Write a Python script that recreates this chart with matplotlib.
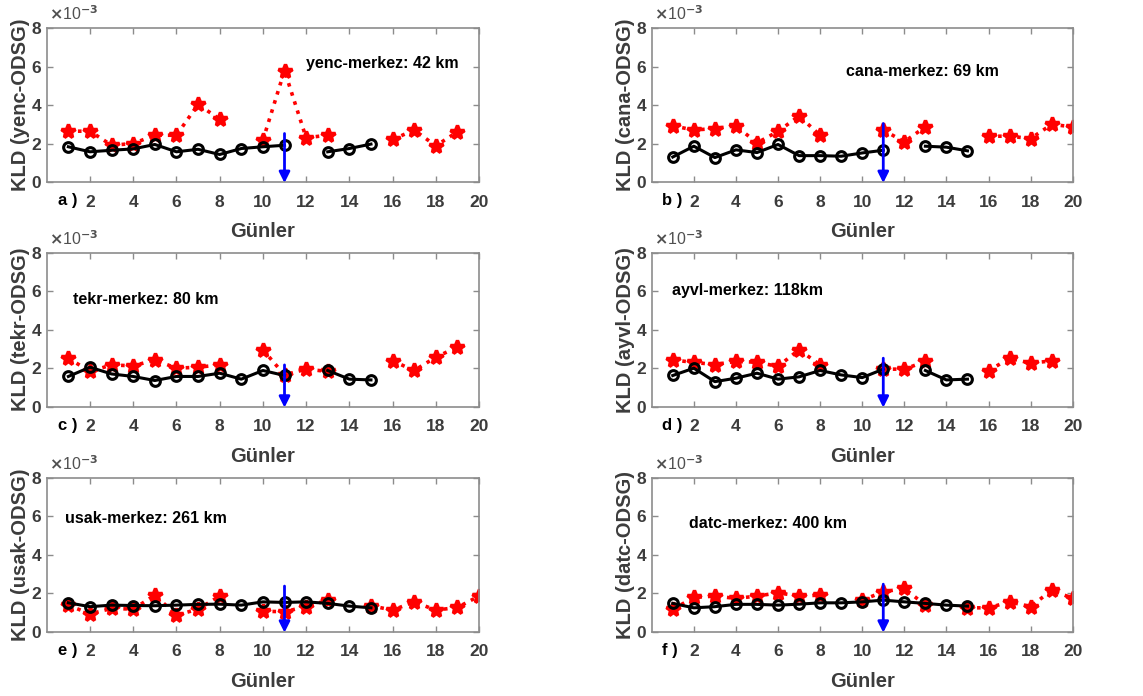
import numpy as np
import matplotlib
matplotlib.use("Agg")
import matplotlib.pyplot as plt

plt.rcParams['font.family'] = ['Liberation Sans Narrow', 'Liberation Sans', 'DejaVu Sans']
plt.rcParams['font.weight'] = 'bold'

nan = np.nan
days = np.arange(1, 21)

# KLD values (x10^-3), black = solid circles, red = dotted stars
yenc_black = [1.83, 1.57, 1.65, 1.72, 1.95, 1.57, 1.70, 1.43, 1.74, 1.83, 1.91, nan, 1.57, 1.74, 1.97, nan, nan, nan, nan, nan]
yenc_red = [2.64, 2.64, 1.91, 2.00, 2.43, 2.43, 4.03, 3.27, nan, 2.17, 5.79, 2.30, 2.43, nan, nan, 2.21, 2.70, 1.88, 2.61, nan]

cana_black = [1.30, 1.86, 1.27, 1.67, 1.53, 1.95, 1.37, 1.37, 1.34, 1.51, 1.65, nan, 1.86, 1.81, 1.62, nan, nan, nan, nan, nan]
cana_red = [2.92, 2.70, 2.78, 2.92, 2.03, 2.63, 3.43, 2.43, nan, nan, 2.70, 2.09, 2.87, nan, nan, 2.38, 2.38, 2.26, 2.99, 2.87]

tekr_black = [1.57, 2.05, 1.70, 1.57, 1.36, 1.57, 1.57, 1.74, 1.43, 1.88, 1.62, nan, 1.88, 1.43, 1.39, nan, nan, nan, nan, nan]
tekr_red = [2.52, 1.83, 2.17, 2.12, 2.43, 2.00, 2.05, 2.17, nan, 2.96, 1.65, 1.95, 1.83, nan, nan, 2.38, 1.88, 2.57, 3.10, nan]

ayvl_black = [1.62, 2.00, 1.30, 1.48, 1.74, 1.43, 1.55, 1.88, 1.65, 1.51, 1.95, nan, 1.88, 1.39, 1.43, nan, nan, nan, nan, nan]
ayvl_red = [2.43, 2.30, 2.19, 2.35, 2.31, 2.09, 2.96, 2.17, nan, nan, 1.95, 1.95, 2.35, nan, nan, 1.86, 2.52, 2.26, 2.38, nan]

usak_black = [1.50, 1.30, 1.38, 1.36, 1.35, 1.38, 1.42, 1.43, 1.38, 1.55, 1.52, 1.55, 1.47, 1.33, 1.24, nan, nan, nan, nan, nan]
usak_red = [1.38, 0.92, 1.21, 1.17, 1.90, 0.86, 1.17, 1.85, nan, 1.06, 1.04, 1.30, 1.64, nan, 1.35, 1.12, 1.55, 1.12, 1.26, 1.85]

datc_black = [1.47, 1.24, 1.30, 1.42, 1.42, 1.38, 1.43, 1.50, 1.50, 1.55, 1.64, 1.55, 1.47, 1.38, 1.33, nan, nan, nan, nan, nan]
datc_red = [1.16, 1.78, 1.85, 1.73, 1.85, 2.02, 1.85, 1.90, nan, 1.64, 2.07, 2.25, 1.38, nan, 1.24, 1.24, 1.55, 1.30, 2.16, 1.73]

stations = ['yenc', 'cana', 'tekr', 'ayvl', 'usak', 'datc']
letters = ['a', 'b', 'c', 'd', 'e', 'f']
labels = ['yenc-merkez: 42 km', 'cana-merkez: 69 km', 'tekr-merkez: 80 km',
          'ayvl-merkez: 118km', 'usak-merkez: 261 km', 'datc-merkez: 400 km']
label_pos = [(12.0, 6.18), (9.25, 5.73), (1.2, 5.57), (0.95, 6.03), (0.85, 5.88), (1.75, 5.62)]
arrow_top = [2.52, 3.04, 2.17, 2.52, 2.37, 2.47]
blacks = [yenc_black, cana_black, tekr_black, ayvl_black, usak_black, datc_black]
reds = [yenc_red, cana_red, tekr_red, ayvl_red, usak_red, datc_red]

# axes rectangles in figure fractions
lefts = [0.0409, 0.5702]
widths = [0.3782, 0.3683]
bottoms = [0.7385, 0.4157, 0.0924]
height = 0.2212

fig = plt.figure(figsize=(11.43, 6.96), dpi=100)
spine_col = '#8c8c8c'
tick_col = '#3c3c3c'

for i in range(6):
    r, c = i // 2, i % 2
    ax = fig.add_axes([lefts[c], bottoms[r], widths[c], height])
    ax.plot(days, reds[i], ':', color='red', lw=2.6, marker='*', ms=10, mew=2.5, zorder=2)
    ax.plot(days, blacks[i], '-', color='black', lw=2.2, marker='o', ms=7, mfc='none', mew=2.2, zorder=3)
    ax.annotate('', xy=(11, -0.05), xytext=(11, arrow_top[i]),
                arrowprops=dict(arrowstyle='-|>', color='#0000ff', lw=2, mutation_scale=16,
                                shrinkA=0, shrinkB=0),
                annotation_clip=False, zorder=4)
    ax.set_xlim(0, 20)
    ax.set_ylim(0, 8)
    ax.set_xticks(np.arange(2, 21, 2))
    ax.set_yticks([0, 2, 4, 6, 8])
    ax.tick_params(direction='in', top=True, right=True, length=4, width=1,
                   colors=spine_col, labelcolor=tick_col, labelsize=12.5)
    ax.tick_params(axis='x', pad=9)
    ax.tick_params(axis='y', pad=4)
    for lab in ax.get_xticklabels() + ax.get_yticklabels():
        lab.set_fontweight('bold')
    for sp in ax.spines.values():
        sp.set_color(spine_col)
        sp.set_linewidth(1.2)
    ax.set_xlabel('Günler', fontsize=14.5, fontweight='bold', color='#3c3c3c', labelpad=9)
    ax.set_ylabel('KLD (' + stations[i] + '-ODSG)', fontsize=14.5, fontweight='bold',
                  color='#3c3c3c', labelpad=1)
    ax.text(label_pos[i][0], label_pos[i][1], labels[i], fontsize=11.5, fontweight='bold',
            va='center', ha='left', color='black')
    ax.text(0.025, -0.12, letters[i] + ' )', transform=ax.transAxes, fontsize=12,
            fontweight='bold', va='center', ha='left', color='black')
    ax.text(0.005, 1.03, r'$\times$10$^{-3}$', transform=ax.transAxes, fontsize=11.5,
            fontweight='normal', va='bottom', ha='left', color='#505050')

fig.savefig('out.png', dpi=100)
